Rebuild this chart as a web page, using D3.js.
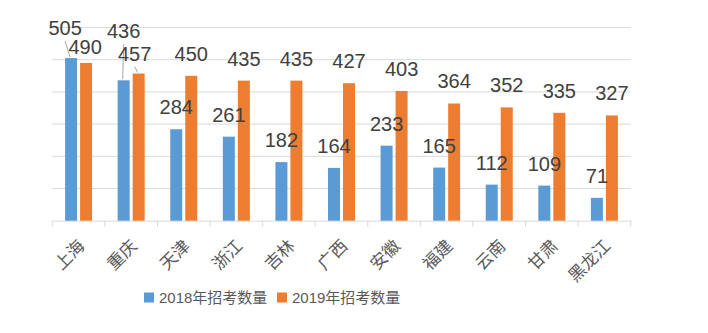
<!DOCTYPE html>
<html><head><meta charset="utf-8">
<script src="https://cdn.jsdelivr.net/npm/d3@7"></script>
<style>
html,body{margin:0;padding:0;background:#fff;}
svg{display:block;}
</style>
</head><body>
<svg id="chart" width="708" height="333"></svg>
<script>
const categories = ["上海","重庆","天津","浙江","吉林","广西","安徽","福建","云南","甘肃","黑龙江"];
const seriesNames = ["2018年招考数量","2019年招考数量"];
const values2018 = [505,436,284,261,182,164,233,165,112,109,71];
const values2019 = [490,457,450,435,435,427,403,364,352,335,327];
const yTicks = [0,100,200,300,400,500,600];

// layout-only nudges for the few labels moved to avoid overlap (dx, dy in px, leader line flag)
const labelNudge = {"上海|0":[-6,-8,true],"上海|1":[-1,6,false],"重庆|0":[0,-27,true],"重庆|1":[-4,2,true]};

const colors = ["#5B9BD5","#ED7D31"];
const svg = d3.select("#chart");
const M = {left:52.3, right:630.7, top:27.5, bottom:220.7};
const fontNum = "'Liberation Sans','Noto Sans CJK SC',sans-serif";
const fontCJK = "'Noto Sans CJK SC','Liberation Sans',sans-serif";

const x = d3.scaleBand().domain(categories).range([M.left, M.right]).paddingInner(0).paddingOuter(0);
const bw = x.bandwidth();
const xs = d3.scaleBand().domain([0,1]).range([bw*0.2433, bw*0.7567]).paddingInner(0.2).paddingOuter(0);
const y = d3.scaleLinear().domain([0,600]).range([M.bottom, M.top]);

// gridlines
svg.append("g").selectAll("line").data(yTicks.slice(1)).join("line")
  .attr("x1", M.left).attr("x2", M.right)
  .attr("y1", d=>y(d)).attr("y2", d=>y(d))
  .attr("stroke", "#d9d9d9").attr("stroke-width", 1);

// x axis
const xAxis = d3.axisBottom(x).tickSize(0).tickFormat("");
const gx = svg.append("g").attr("transform", `translate(0,${M.bottom})`).call(xAxis);
gx.select(".domain").attr("stroke","#d9d9d9");
// boundary tick marks
const bounds = categories.map(c=>x(c)).concat([M.right]);
gx.selectAll("line.bt").data(bounds).join("line").attr("class","bt")
  .attr("x1", d=>d).attr("x2", d=>d).attr("y1",0).attr("y2",6)
  .attr("stroke","#d9d9d9");

// category labels
svg.append("g").selectAll("text").data(categories).join("text")
  .attr("transform", d=>`translate(${x(d)+bw/2+3},${M.bottom+22}) rotate(-45)`)
  .attr("text-anchor","end")
  .attr("dy","0.35em")
  .style("font-family", fontCJK).style("font-size","17px").attr("fill","#595959")
  .text(d=>d);

// bars
const rows = [];
categories.forEach((c,i)=>{
  rows.push({c, s:0, v:values2018[i]});
  rows.push({c, s:1, v:values2019[i]});
});
svg.append("g").selectAll("rect").data(rows).join("rect")
  .attr("x", d=>x(d.c)+xs(d.s)).attr("width", xs.bandwidth())
  .attr("y", d=>y(d.v)).attr("height", d=>y(0)-y(d.v))
  .attr("fill", d=>colors[d.s]);

// data labels
const lg = svg.append("g");
rows.forEach(d=>{
  const cx = x(d.c)+xs(d.s)+xs.bandwidth()/2;
  const top = y(d.v);
  const n = labelNudge[d.c+"|"+d.s] || [0,0,false];
  const lx = cx + n[0], ly = top - 15 + n[1];
  if (n[2]) {
    lg.append("line").attr("x1", lx).attr("y1", ly+6).attr("x2", cx-1).attr("y2", top-1)
      .attr("stroke","#a6a6a6").attr("stroke-width",1);
  }
  lg.append("text").attr("x", lx).attr("y", ly).attr("text-anchor","middle")
    .style("font-family", fontNum).style("font-size","20px").attr("fill","#404040")
    .text(d.v);
});

// legend
const leg = svg.append("g");
const legX = [144, 277];
seriesNames.forEach((s,i)=>{
  leg.append("rect").attr("x", legX[i]).attr("y", 292.5).attr("width",10).attr("height",10).attr("fill",colors[i]);
  leg.append("text").attr("x", legX[i]+15).attr("y", 297.5).attr("dy","0.35em")
    .style("font-family", fontNum).style("font-size","15px").attr("fill","#595959").text(s);
});
</script>
</body></html>
